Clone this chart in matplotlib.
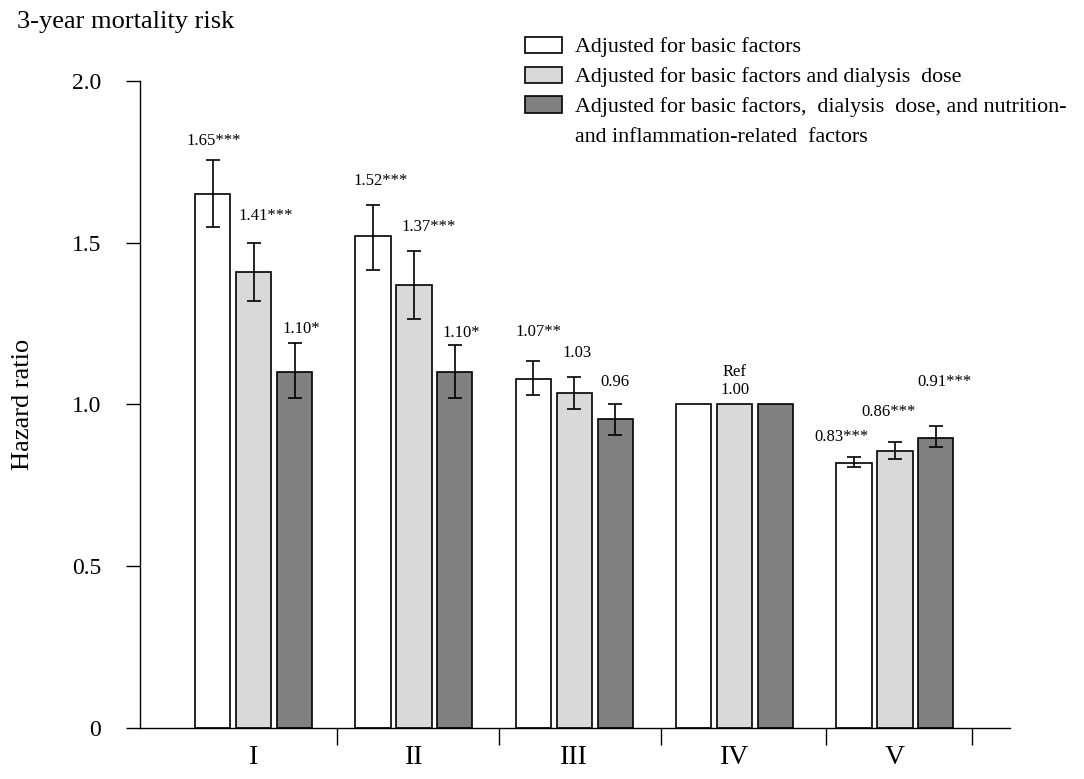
import matplotlib
matplotlib.use("Agg")
import matplotlib.pyplot as plt
import numpy as np
from matplotlib.patches import Patch

plt.rcParams['font.family'] = ['Liberation Serif', 'DejaVu Serif']

groups = ['I', 'II', 'III', 'IV', 'V']
series = ['Adjusted for basic factors',
          'Adjusted for basic factors and dialysis  dose',
          'Adjusted for basic factors,  dialysis  dose, and nutrition-',
          'and inflammation-related  factors']
hr_basic = [1.65, 1.52, 1.08, 1.00, 0.82]
hr_dose = [1.41, 1.37, 1.035, 1.00, 0.857]
hr_full = [1.10, 1.10, 0.955, 1.00, 0.897]
lo_basic = [1.55, 1.415, 1.03, 1.00, 0.807]
hi_basic = [1.755, 1.615, 1.135, 1.00, 0.838]
lo_dose = [1.32, 1.265, 0.985, 1.00, 0.83]
hi_dose = [1.50, 1.475, 1.085, 1.00, 0.885]
lo_full = [1.02, 1.02, 0.905, 1.00, 0.87]
hi_full = [1.19, 1.185, 1.00, 1.00, 0.932]
labels_basic = ['1.65***', '1.52***', '1.07**', '', '0.83***']
labels_dose = ['1.41***', '1.37***', '1.03', 'Ref\n1.00', '0.86***']
labels_full = ['1.10*', '1.10*', '0.96', '', '0.91***']
boundaries = [0.52, 1.53, 2.54, 3.57, 4.48]

# label placement offsets (style only)
dx_basic = [0.005, 0.05, 0.03, 0, -0.075]
dy_basic = [0.06, 0.077, 0.09, 0, 0.062]
dx_dose = [0.075, 0.09, 0.02, 0, -0.04]
dy_dose = [0.083, 0.074, 0.074, 0.072, 0.093]
dx_full = [0.04, 0.04, 0.0, 0, 0.055]
dy_full = [0.042, 0.035, 0.068, 0, 0.136]

fig = plt.figure(figsize=(10.84, 7.79), dpi=100)
ax = fig.add_axes([0.129, 0.0655, 0.803, 0.8306])

x = np.arange(len(groups))
w = 0.22
off = 0.255
colors = ['#ffffff', '#d9d9d9', '#808080']
data = [(hr_basic, lo_basic, hi_basic, labels_basic, dx_basic, dy_basic),
        (hr_dose, lo_dose, hi_dose, labels_dose, dx_dose, dy_dose),
        (hr_full, lo_full, hi_full, labels_full, dx_full, dy_full)]
for k, (hr, lo, hi, labs, dxs, dys) in enumerate(data):
    xs = x + (k - 1) * off
    hr = np.array(hr)
    ax.bar(xs, hr, width=w, color=colors[k], edgecolor='black', linewidth=1.2, zorder=2)
    err = np.vstack([hr - np.array(lo), np.array(hi) - hr])
    mask = (err.sum(axis=0) > 0)
    ax.errorbar(xs[mask], hr[mask], yerr=err[:, mask], fmt='none', ecolor='black',
                elinewidth=1.2, capsize=5, capthick=1.2, zorder=3)
    for i, t in enumerate(labs):
        if not t:
            continue
        ax.text(xs[i] + dxs[i], hi[i] + dys[i], t, ha='center', va='center',
                fontsize=12, linespacing=1.15, clip_on=False)

ax.set_xlim(-0.71, 4.72)
ax.set_ylim(0, 2.0)
ax.set_yticks([0, 0.5, 1.0, 1.5, 2.0])
ax.set_yticklabels(['0', '0.5', '1.0', '1.5', '2.0'], fontsize=17)
ax.set_xticks(x)
ax.set_xticklabels(groups, fontsize=20)
ax.tick_params(axis='x', length=0, pad=12)
ax.set_xticks(boundaries, minor=True)
ax.tick_params(axis='x', which='minor', length=12, width=1, direction='out')
ax.tick_params(axis='y', length=10, width=1, direction='out', pad=18)
for s in ['top', 'right']:
    ax.spines[s].set_visible(False)
for s in ['left', 'bottom']:
    ax.spines[s].set_linewidth(1.0)
ax.set_ylabel('Hazard ratio', fontsize=19, labelpad=27)

fig.text(0.016, 0.972, '3-year mortality risk', fontsize=19, ha='left', va='center')

handles = [Patch(facecolor=c, edgecolor='black', linewidth=1.2) for c in colors]
handles.append(Patch(facecolor='none', edgecolor='none'))
leg = fig.legend(handles, series, loc='upper left', bbox_to_anchor=(0.484, 0.953),
                 frameon=False, fontsize=15.8, handlelength=1.7, handleheight=0.75,
                 handletextpad=0.6, labelspacing=0.42, borderaxespad=0,
                 borderpad=0)

fig.savefig('out.png', dpi=100)
